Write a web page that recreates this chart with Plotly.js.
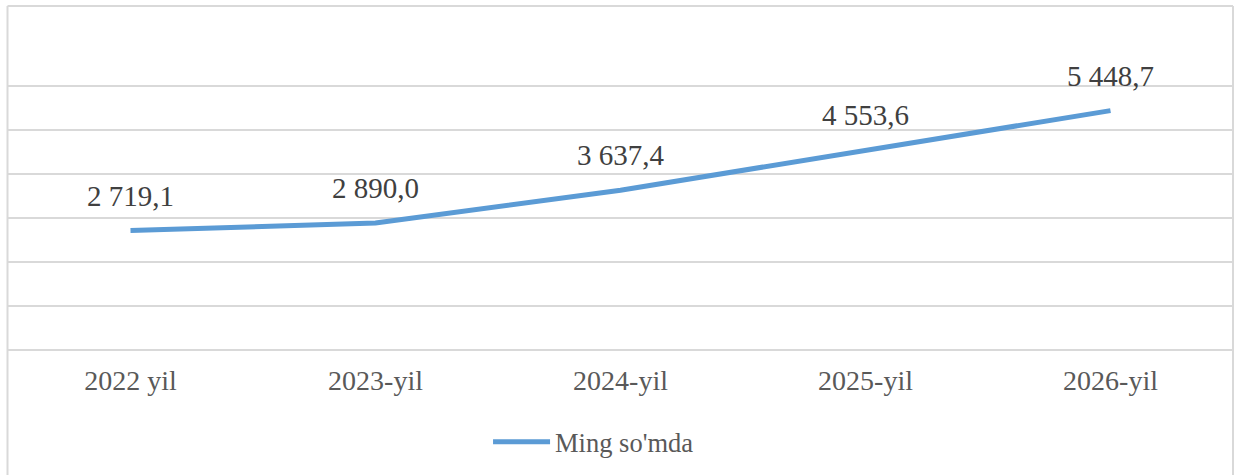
<!DOCTYPE html>
<html>
<head>
<meta charset="utf-8">
<script src="https://cdn.plot.ly/plotly-3.0.1.min.js"></script>
<style>
  html, body { margin: 0; padding: 0; background: #ffffff; }
  #chart { width: 1234px; height: 475px; }
  #chart text { font-family: 'Liberation Serif', 'Times New Roman', serif !important; }
</style>
</head>
<body>
<div id="chart"></div>
<script>
const categories = ["2022 yil", "2023-yil", "2024-yil", "2025-yil", "2026-yil"];
const values = [2719.1, 2890.0, 3637.4, 4553.6, 5448.7];
const seriesName = "Ming so'mda";

function fmt(v) {
  const parts = v.toFixed(1).split(".");
  const intPart = parts[0].replace(/\B(?=(\d{3})+(?!\d))/g, " ");
  return intPart + "," + parts[1];
}

const FONT = "Liberation Serif";

const trace = {
  x: categories,
  y: values,
  type: "scatter",
  mode: "lines",
  name: seriesName,
  line: { color: "#5b9bd5", width: 5 },
  hoverinfo: "skip"
};

const annotations = categories.map((c, i) => ({
  x: c,
  y: values[i],
  xref: "x",
  yref: "y",
  text: fmt(values[i]),
  showarrow: false,
  xanchor: "center",
  yanchor: "bottom",
  yshift: 17,
  font: { family: FONT, size: 29, color: "#404040" }
}));

const layout = {
  width: 1234,
  height: 475,
  font: { family: FONT, size: 28 },
  margin: { l: 8, r: 1, t: 82.1, b: 124.5 },
  paper_bgcolor: "#ffffff",
  plot_bgcolor: "#ffffff",
  showlegend: true,
  legend: {
    orientation: "h",
    x: 0.478,
    xanchor: "center",
    y: -0.343,
    yanchor: "middle",
    font: { family: FONT, size: 26.5, color: "#595959" },
    itemwidth: 57
  },
  xaxis: {
    type: "category",
    range: [-0.5, 4.5],
    showgrid: false,
    zeroline: false,
    showline: false,
    ticks: "",
    ticklabelstandoff: 11,
    tickfont: { family: FONT, size: 28, color: "#595959" },
    fixedrange: true
  },
  yaxis: {
    range: [0, 6100],
    dtick: 1000,
    showticklabels: false,
    showgrid: true,
    gridcolor: "#d9d9d9",
    gridwidth: 2,
    zeroline: true,
    zerolinecolor: "#d9d9d9",
    zerolinewidth: 2,
    ticks: "",
    fixedrange: true
  },
  annotations: annotations,
  shapes: [
    { type: "line", xref: "paper", yref: "paper", x0: -0.0004, x1: -0.0004, y0: -0.6, y1: 1.284, line: { color: "#d9d9d9", width: 2 } },
    { type: "line", xref: "paper", yref: "paper", x0: -0.0004, x1: 1.0, y0: 1.284, y1: 1.284, line: { color: "#d9d9d9", width: 2 } },
    { type: "line", xref: "paper", yref: "paper", x0: 1.0, x1: 1.0, y0: -0.6, y1: 1.284, line: { color: "#d9d9d9", width: 2 } }
  ]
};

Plotly.newPlot("chart", [trace], layout, { displayModeBar: false });
</script>
</body>
</html>
